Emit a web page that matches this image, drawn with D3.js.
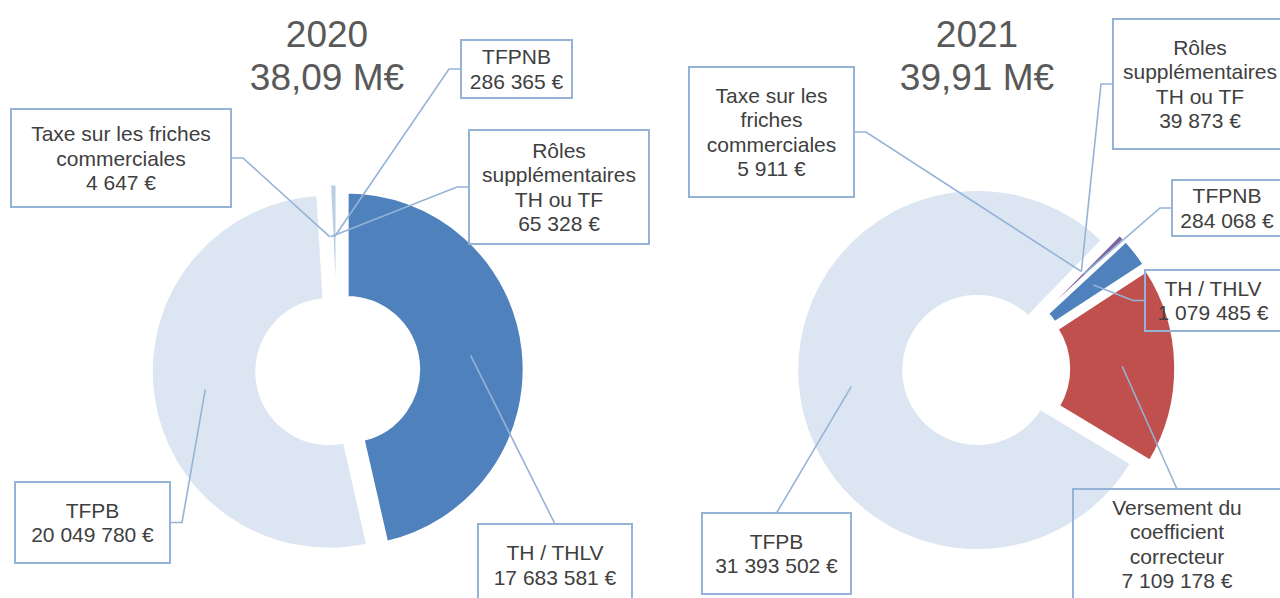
<!DOCTYPE html>
<html><head><meta charset="utf-8">
<script src="https://cdn.jsdelivr.net/npm/d3@7"></script>
<style>
html,body{margin:0;padding:0;background:#fff;}
svg{display:block;}
text{font-family:"Liberation Sans", Arial, sans-serif;}
</style></head><body>
<svg id="chart" width="1280" height="598"></svg>
<script>
// ---------------- DATA ----------------
const years = ["2020", "2021"];
const categories2020 = ["TH / THLV", "TFPB", "Taxe sur les friches commerciales", "Rôles supplémentaires TH ou TF", "TFPNB"];
const values2020 = [17683581, 20049780, 4647, 65328, 286365];
const categories2021 = ["TFPB", "Taxe sur les friches commerciales", "Rôles supplémentaires TH ou TF", "TFPNB", "TH / THLV", "Versement du coefficient correcteur"];
const values2021 = [31393502, 5911, 39873, 284068, 1079485, 7109178];
const colors2020 = ["#4F81BD", "#DCE6F2", "#C6D9F1", "#B9CDE5", "#B9CDE5"];
const colors2021 = ["#DCE6F2", "#B9CDE5", "#B9CDE5", "#8064A2", "#4F81BD", "#C0504D"];

// ---------------- LAYOUT ----------------
const layouts = [
  { year: years[0], cats: categories2020, vals: values2020, colors: colors2020,
    cx: 337.7, cy: 370.4, R: 178, r: 71.5, explode: 9, startDeg: 0, titleX: 327,
    labels: [
      { box: [478, 524, 632, 606], anchor: "top",   wrap: [3] },
      { box: [15, 482, 170, 563],  anchor: "right", wrap: [1] },
      { box: [11, 109, 231, 207],  anchor: "right", wrap: [4, 1] },
      { box: [469, 130, 649, 244], anchor: "left",  wrap: [1, 1, 3] },
      { box: [461, 40, 572, 98],   anchor: "left",  wrap: [1] }
    ] },
  { year: years[1], cats: categories2021, vals: values2021, colors: colors2021,
    cx: 986.2, cy: 368.8, R: 181, r: 73, explode: 9, startDeg: 121, titleX: 977,
    labels: [
      { box: [702, 513, 851, 594],   anchor: "top",   wrap: [1] },
      { box: [689, 67, 854, 197],    anchor: "right", wrap: [3, 1, 1] },
      { box: [1113, 19, 1287, 149],  anchor: "left",  wrap: [1, 1, 3] },
      { box: [1172, 180, 1282, 236], anchor: "left",  wrap: [1] },
      { box: [1145, 270, 1281, 331], anchor: "left",  wrap: [3] },
      { box: [1073, 489, 1281, 599], anchor: "top",   wrap: [2, 1, 1] }
    ] }
];

const loc = d3.formatLocale({ decimal: ",", thousands: " ", grouping: [3], currency: ["", " €"] });
const fmtInt = loc.format(",d");
const fmtM = loc.format(",.2f");

const svg = d3.select("#chart");
const lineColor = "#95B3D7";
const lineH = 24.4;

layouts.forEach(L => {
  const g = svg.append("g");
  const total = d3.sum(L.vals);
  const a0 = L.startDeg * Math.PI / 180;
  const pie = d3.pie().sort(null).value(d => d).startAngle(a0).endAngle(a0 + 2 * Math.PI);
  const arcs = pie(L.vals);
  const arc = d3.arc().innerRadius(L.r).outerRadius(L.R);
  const midR = (L.R + L.r) / 2 + L.explode;

  const off = d => {
    const m = (d.startAngle + d.endAngle) / 2;
    return [Math.sin(m), -Math.cos(m)];
  };

  // slices
  g.selectAll("path.slice").data(arcs).join("path")
    .attr("class", "slice")
    .attr("d", arc)
    .attr("transform", d => {
      const [ux, uy] = off(d);
      return `translate(${L.cx + ux * L.explode},${L.cy + uy * L.explode})`;
    })
    .attr("fill", (d, i) => L.colors[i])
    .attr("stroke", "#fff")
    .attr("stroke-width", 4)
    .attr("stroke-linejoin", "miter");

  // title
  const t = g.append("text").attr("text-anchor", "middle").attr("fill", "#595959")
    .style("font-size", "37px");
  t.append("tspan").attr("x", L.titleX).attr("y", 47).text(L.year);
  t.append("tspan").attr("x", L.titleX).attr("y", 90).text(fmtM(total / 1e6) + " M€");

  // labels and leaders
  arcs.forEach((d, i) => {
    const lab = L.labels[i];
    const [x0, y0, x1, y1] = lab.box;
    const [ux, uy] = off(d);
    const m = (d.startAngle + d.endAngle) / 2;
    const ex = L.cx + Math.sin(m) * midR;
    const ey = L.cy - Math.cos(m) * midR;
    let pts;
    const my = (y0 + y1) / 2, mx = (x0 + x1) / 2;
    if (lab.anchor === "top") pts = [[mx, y0], [ex, ey]];
    else if (lab.anchor === "right") pts = [[x1, my], [x1 + 12, my], [ex, ey]];
    else pts = [[x0, my], [x0 - 12, my], [ex, ey]];
    g.append("path").attr("d", d3.line()(pts)).attr("fill", "none")
      .attr("stroke", lineColor).attr("stroke-width", 1.6);

    g.append("rect").attr("x", x0).attr("y", y0).attr("width", x1 - x0).attr("height", y1 - y0)
      .attr("fill", "none").attr("stroke", lineColor).attr("stroke-width", 2);

    const words = L.cats[i].split(" ");
    const lines = [];
    let k = 0;
    lab.wrap.forEach(n => { lines.push(words.slice(k, k + n).join(" ")); k += n; });
    lines.push(fmtInt(L.vals[i]) + " €");
    const startY = my - (lines.length - 1) * lineH / 2;
    const tx = g.append("text").attr("text-anchor", "middle").attr("fill", "#404040")
      .style("font-size", "21px");
    lines.forEach((ln, j) => {
      tx.append("tspan").attr("x", mx).attr("y", startY + j * lineH).attr("dy", "0.36em").text(ln);
    });
  });
});
</script>
</body></html>
